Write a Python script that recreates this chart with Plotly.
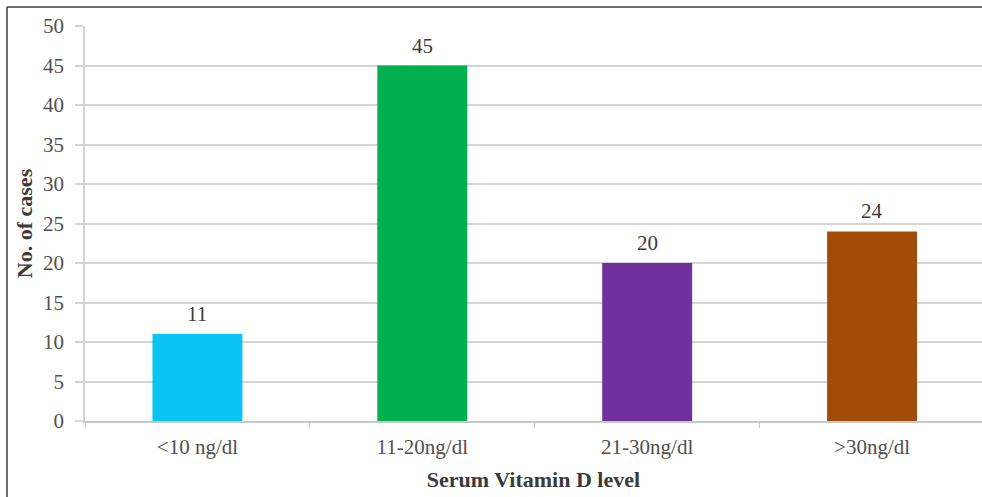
import plotly.graph_objects as go

# Serum vitamin D level groups and number of cases in each
categories = ["<10 ng/dl", "11-20ng/dl", "21-30ng/dl", ">30ng/dl"]
cases = [11, 45, 20, 24]
bar_colors = ["#0bc3f3", "#00b050", "#7030a0", "#a34c08"]
y_ticks = [0, 5, 10, 15, 20, 25, 30, 35, 40, 45, 50]

W, H = 982, 497
L, R, T, B = 85, 0, 26, 76
plot_w = W - L - R
plot_h = H - T - B

serif = "Liberation Serif, Times New Roman, serif"

fig = go.Figure()
fig.add_trace(go.Bar(
    x=categories,
    y=cases,
    width=0.4,
    marker=dict(color=bar_colors, line=dict(width=0)),
    hoverinfo="x+y",
))

# value labels above each bar
for cat, val in zip(categories, cases):
    fig.add_annotation(
        x=cat, y=val, text=str(val), showarrow=False,
        yanchor="bottom", yshift=6,
        font=dict(family=serif, size=21, color="#3a3a3a"),
    )

# frame lines along the top and left of the figure
def px_x(px):
    return (px - L) / plot_w

def px_y(py):
    return (H - B - py) / plot_h

frame = dict(color="#3c3c3c", width=1.5)
fig.add_shape(type="line", xref="paper", yref="paper",
              x0=px_x(7), x1=px_x(W + 5), y0=px_y(7), y1=px_y(7), line=frame)
fig.add_shape(type="line", xref="paper", yref="paper",
              x0=px_x(7), x1=px_x(7), y0=px_y(7), y1=px_y(H + 5), line=frame)

fig.update_layout(
    width=W, height=H,
    margin=dict(l=L, r=R, t=T, b=B),
    paper_bgcolor="white",
    plot_bgcolor="white",
    showlegend=False,
    bargap=0.6,
    xaxis=dict(
        type="category",
        range=[-0.5, 3.5 - 2.5 / 225],
        automargin=False,
        showgrid=False,
        showline=True, linecolor="#c8c8c8", linewidth=1.5,
        ticks="outside", tickson="boundaries", ticklen=5,
        tickcolor="#c8c8c8", tickwidth=1,
        ticklabelstandoff=6,
        tickfont=dict(family=serif, size=21, color="#505050"),
        title=dict(text="<b>Serum Vitamin D level</b>",
                   font=dict(family=serif, size=22, color="#3a3a3a"),
                   standoff=14),
        fixedrange=True,
    ),
    yaxis=dict(
        range=[0, 50],
        tickvals=y_ticks,
        automargin=False,
        showgrid=True, gridcolor="#d4d4d4", gridwidth=1.5,
        showline=True, linecolor="#d4d4d4", linewidth=1.5,
        ticks="outside", ticklen=8, tickcolor="#d4d4d4", tickwidth=1.5,
        ticklabelstandoff=7,
        tickfont=dict(family=serif, size=21, color="#505050"),
        zeroline=False,
        title=dict(text="<b>No. of cases</b>",
                   font=dict(family=serif, size=22, color="#3a3a3a"),
                   standoff=4),
        fixedrange=True,
    ),
)

fig.write_html("out.html")
